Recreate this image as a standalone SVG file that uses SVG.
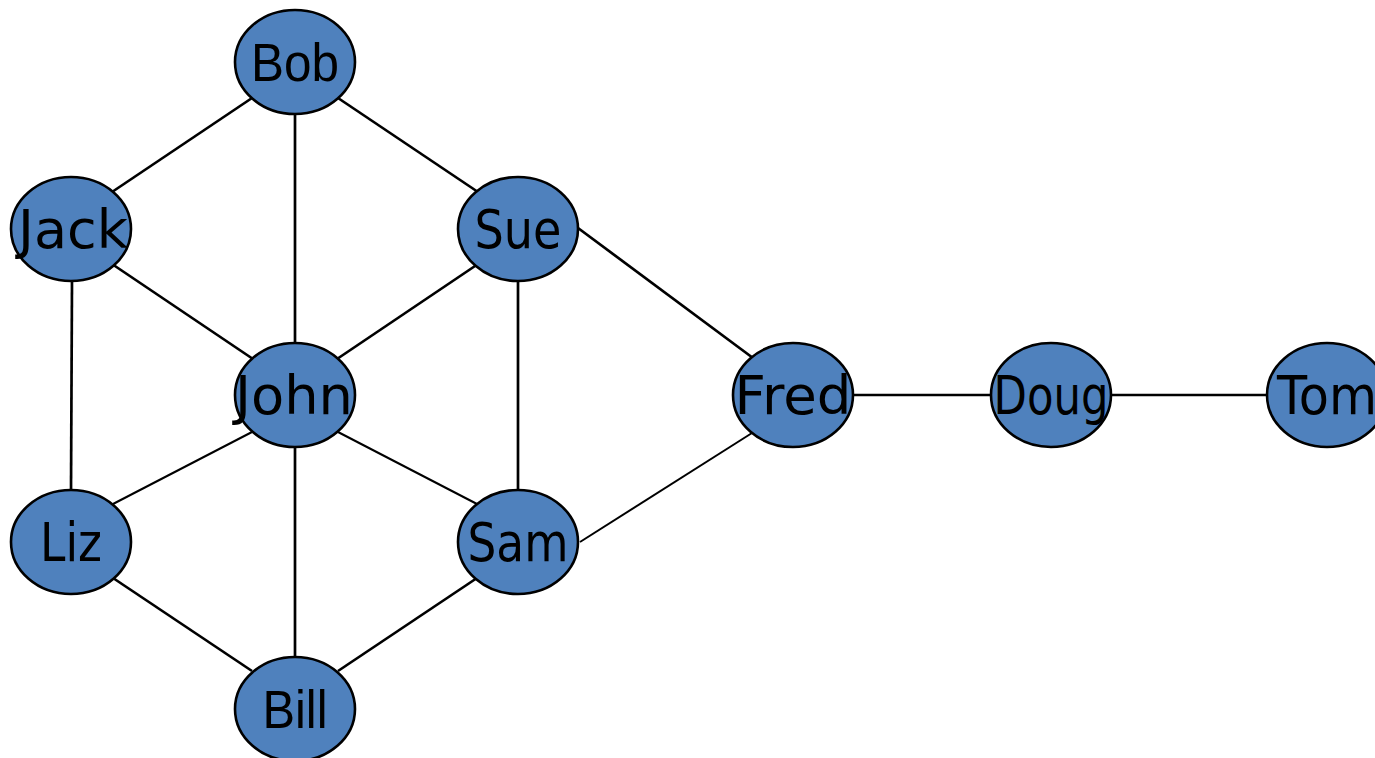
<svg xmlns="http://www.w3.org/2000/svg" width="1375" height="758" viewBox="0 0 1375 758">
  <style>
    .edge { stroke: #000; stroke-width: 2.7; fill: none; }
    .thin { stroke-width: 2; }
    .node ellipse { fill: #4F81BD; stroke: #000; stroke-width: 2.6; }
    .node text { font-family: "DejaVu Sans", "Liberation Sans", sans-serif; font-size: 53px; fill: #000; text-anchor: middle; }
    .node text.arial { font-family: "Liberation Sans", Arial, sans-serif; font-size: 53px; }
  </style>
  <rect width="1375" height="758" fill="#fff"/>
  <g id="connectors">
    <line class="edge" x1="252" y1="98" x2="112" y2="192"/>
    <line class="edge" x1="295" y1="112" x2="295" y2="345"/>
    <line class="edge" x1="338" y1="98" x2="478" y2="192"/>
    <line class="edge" x1="112" y1="264" x2="253" y2="359"/>
    <line class="edge" x1="72" y1="281" x2="71" y2="490"/>
    <line class="edge" x1="478" y1="264" x2="337" y2="359"/>
    <line class="edge" x1="518" y1="281" x2="518" y2="490"/>
    <line class="edge" x1="578" y1="228" x2="753" y2="358"/>
    <line class="edge thin" x1="252" y1="432" x2="113" y2="504"/>
    <line class="edge thin" x1="338" y1="432" x2="477" y2="504"/>
    <line class="edge" x1="295" y1="447" x2="295" y2="657"/>
    <line class="edge" x1="113" y1="578" x2="252" y2="671"/>
    <line class="edge" x1="477" y1="578" x2="338" y2="671"/>
    <line class="edge thin" x1="580" y1="542" x2="752" y2="433"/>
    <line class="edge" x1="853" y1="395" x2="991" y2="395"/>
    <line class="edge" x1="1111" y1="395" x2="1267" y2="395"/>
  </g>
  <g id="node-bob" class="node"><ellipse cx="295" cy="62" rx="60" ry="52"/><text class="arial" x="295" y="81" textLength="88" lengthAdjust="spacingAndGlyphs">Bob</text></g>
  <g id="node-jack" class="node"><ellipse cx="71" cy="229" rx="60" ry="52"/><text x="73" y="248" textLength="110" lengthAdjust="spacingAndGlyphs">Jack</text></g>
  <g id="node-sue" class="node"><ellipse cx="518" cy="229" rx="60" ry="52"/><text x="518" y="248" textLength="87" lengthAdjust="spacingAndGlyphs">Sue</text></g>
  <g id="node-john" class="node"><ellipse cx="295" cy="395" rx="60" ry="52"/><text x="294" y="414" textLength="118" lengthAdjust="spacingAndGlyphs">John</text></g>
  <g id="node-fred" class="node"><ellipse cx="793" cy="395" rx="60" ry="52"/><text x="793" y="414" textLength="117" lengthAdjust="spacingAndGlyphs">Fred</text></g>
  <g id="node-doug" class="node"><ellipse cx="1051" cy="395" rx="60" ry="52"/><text x="1051" y="414" textLength="115" lengthAdjust="spacingAndGlyphs">Doug</text></g>
  <g id="node-tom" class="node"><ellipse cx="1327" cy="395" rx="60" ry="52"/><text x="1327" y="414" textLength="100" lengthAdjust="spacingAndGlyphs">Tom</text></g>
  <g id="node-liz" class="node"><ellipse cx="71" cy="542" rx="60" ry="52"/><text x="71" y="561" textLength="62" lengthAdjust="spacingAndGlyphs">Liz</text></g>
  <g id="node-sam" class="node"><ellipse cx="518" cy="542" rx="60" ry="52"/><text x="518" y="561" textLength="101" lengthAdjust="spacingAndGlyphs">Sam</text></g>
  <g id="node-bill" class="node"><ellipse cx="295" cy="709" rx="60" ry="52"/><text class="arial" x="295" y="728" textLength="65" lengthAdjust="spacingAndGlyphs">Bill</text></g>
</svg>
